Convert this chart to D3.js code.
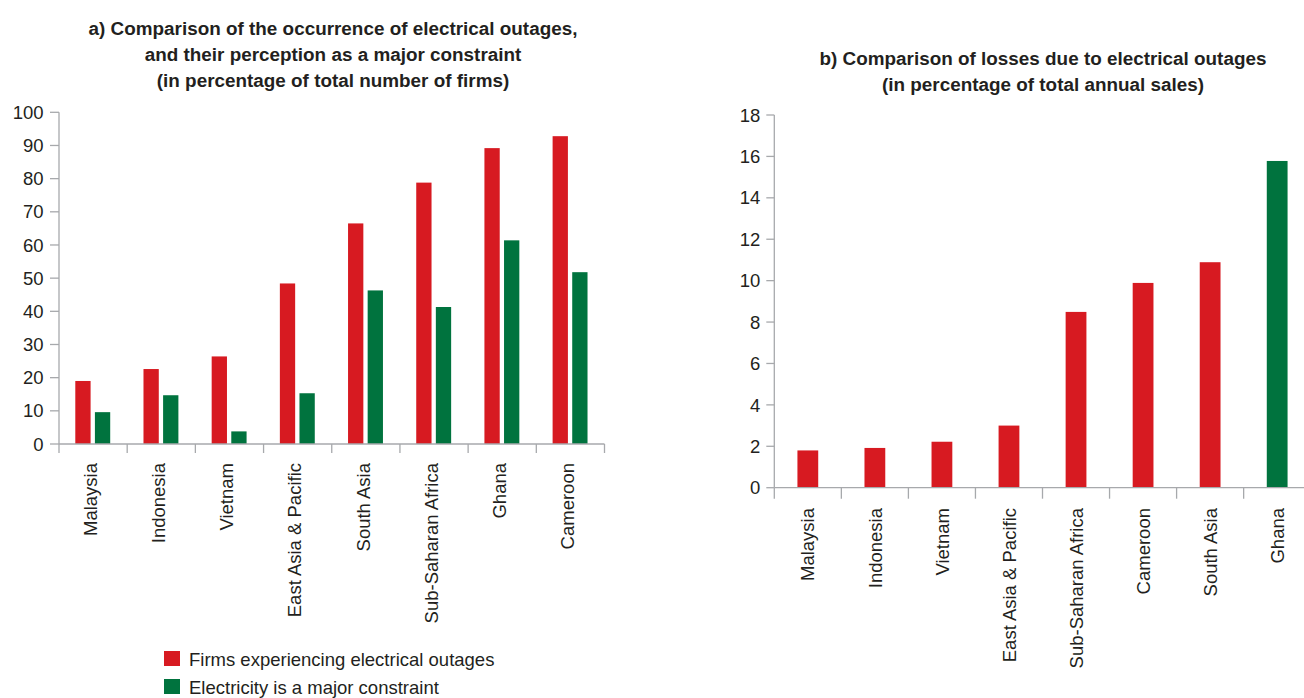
<!DOCTYPE html>
<html>
<head>
<meta charset="utf-8">
<script src="https://cdn.jsdelivr.net/npm/d3@7"></script>
<style>
  html, body { margin: 0; padding: 0; background: #fff; }
  svg { display: block; }
  .title { font-family: "Liberation Sans", Arial, sans-serif; font-weight: bold; font-size: 18.5px; fill: #231f20; }
  .lbl { font-family: "Liberation Sans", Arial, sans-serif; font-size: 18.5px; fill: #231f20; }
</style>
</head>
<body>
<svg id="chart" width="1304" height="698"></svg>
<script>
// Panel a: share of firms (%)
const categoriesA = ["Malaysia", "Indonesia", "Vietnam", "East Asia & Pacific", "South Asia", "Sub-Saharan Africa", "Ghana", "Cameroon"];
const outagesA    = [19.0, 22.6, 26.4, 48.4, 66.5, 78.8, 89.2, 92.8];
const constraintA = [9.6, 14.7, 3.8, 15.3, 46.3, 41.3, 61.4, 51.8];
const ticksA      = [0, 10, 20, 30, 40, 50, 60, 70, 80, 90, 100];
const titleA = ["a) Comparison of the occurrence of electrical outages,",
                "and their perception as a major constraint",
                "(in percentage of total number of firms)"];
const seriesA = ["Firms experiencing electrical outages", "Electricity is a major constraint"];

// Panel b: losses (% of annual sales)
const categoriesB = ["Malaysia", "Indonesia", "Vietnam", "East Asia & Pacific", "Sub-Saharan Africa", "Cameroon", "South Asia", "Ghana"];
const lossesB     = [1.8, 1.92, 2.22, 3.0, 8.49, 9.89, 10.89, 15.78];
const ticksB      = [0, 2, 4, 6, 8, 10, 12, 14, 16, 18];
const titleB = ["b) Comparison of losses due to electrical outages",
                "(in percentage of total annual sales)"];

const RED = "#d71a21", GREEN = "#00733e", AXIS = "#a7a9ac";
const svg = d3.select("#chart");

function axisFrame(g, x, y, ticks, tickLen, xTickLen, labelPad) {
  const [x0, x1] = x.range();
  const [y0, yTop] = y.range();
  // vertical axis
  g.append("line").attr("x1", x0).attr("x2", x0).attr("y1", y0).attr("y2", yTop)
    .attr("stroke", AXIS).attr("stroke-width", 1.3);
  ticks.forEach(t => {
    g.append("line").attr("x1", x0 - tickLen).attr("x2", x0)
      .attr("y1", y(t)).attr("y2", y(t)).attr("stroke", AXIS).attr("stroke-width", 1.3);
    g.append("text").attr("class", "lbl").attr("x", x0 - tickLen - labelPad).attr("y", y(t))
      .attr("dy", "0.36em").attr("text-anchor", "end").text(t);
  });
  // horizontal axis with ticks on category boundaries
  g.append("line").attr("x1", x0).attr("x2", x1).attr("y1", y0).attr("y2", y0)
    .attr("stroke", AXIS).attr("stroke-width", 1.3);
  const dom = x.domain();
  const bounds = dom.map(c => x(c)).concat([x(dom[dom.length - 1]) + x.step()]);
  bounds.forEach(b => {
    g.append("line").attr("x1", b).attr("x2", b).attr("y1", y0).attr("y2", y0 + xTickLen)
      .attr("stroke", AXIS).attr("stroke-width", 1.3);
  });
}

function categoryLabels(g, x, yTop, dx) {
  x.domain().forEach(c => {
    const cx = x(c) + x.bandwidth() / 2 + dx;
    g.append("text").attr("class", "lbl")
      .attr("transform", `translate(${cx},${yTop}) rotate(-90)`)
      .attr("text-anchor", "end").attr("dy", "0.36em").text(c);
  });
}

// Bold titles, condensed horizontally so the first line of panel a spans 489px
let titleSquash = null;
function titleLines(lines, cx, y0, lh) {
  const g = svg.append("g");
  const texts = lines.map((t, i) => g.append("text").attr("class", "title")
      .attr("x", 0).attr("y", y0 + i * lh).attr("text-anchor", "middle").text(t));
  if (titleSquash === null) titleSquash = 489 / texts[0].node().getComputedTextLength();
  g.attr("transform", `translate(${cx},0) scale(${titleSquash},1)`);
}

// ---------- Panel a ----------
const xA = d3.scaleBand().domain(categoriesA).range([59, 604.5]).padding(0);
const yA = d3.scaleLinear().domain([0, 100]).range([444, 112.3]);
const subA = d3.scaleBand().domain([0, 1])
  .range([xA.step() * 0.239, xA.step() * 0.751]).paddingInner(0.22);
const gA = svg.append("g");

gA.selectAll("rect.out").data(outagesA).join("rect")
  .attr("x", (d, i) => xA(categoriesA[i]) + subA(0))
  .attr("width", subA.bandwidth())
  .attr("y", d => yA(d)).attr("height", d => yA(0) - yA(d))
  .attr("fill", RED);
gA.selectAll("rect.con").data(constraintA).join("rect")
  .attr("x", (d, i) => xA(categoriesA[i]) + subA(1))
  .attr("width", subA.bandwidth())
  .attr("y", d => yA(d)).attr("height", d => yA(0) - yA(d))
  .attr("fill", GREEN);

axisFrame(gA, xA, yA, ticksA, 9, 9, 6.5);
categoryLabels(gA, xA, 463, -3);
titleLines(titleA, 333, 35, 26);

// legend
const leg = svg.append("g").attr("transform", "translate(164,651)");
[RED, GREEN].forEach((c, i) => {
  leg.append("rect").attr("x", 0).attr("y", i * 28).attr("width", 16).attr("height", 15).attr("fill", c);
  leg.append("text").attr("class", "lbl").attr("x", 25).attr("y", i * 28 + 15).text(seriesA[i]);
});

// ---------- Panel b ----------
const xB = d3.scaleBand().domain(categoriesB).range([774.3, 774.3 + 8 * 67.05]).padding(0);
const yB = d3.scaleLinear().domain([0, 18]).range([487.7, 115]);
const barWB = xB.step() * 0.31;
const gB = svg.append("g");

gB.selectAll("rect").data(lossesB).join("rect")
  .attr("x", (d, i) => xB(categoriesB[i]) + (xB.step() - barWB) / 2)
  .attr("width", barWB)
  .attr("y", d => yB(d)).attr("height", d => yB(0) - yB(d))
  .attr("fill", (d, i) => categoriesB[i] === "Ghana" ? GREEN : RED);

axisFrame(gB, xB, yB, ticksB, 8, 11, 6);
categoryLabels(gB, xB, 508, 0);
titleLines(titleB, 1043, 65, 26);
</script>
</body>
</html>
